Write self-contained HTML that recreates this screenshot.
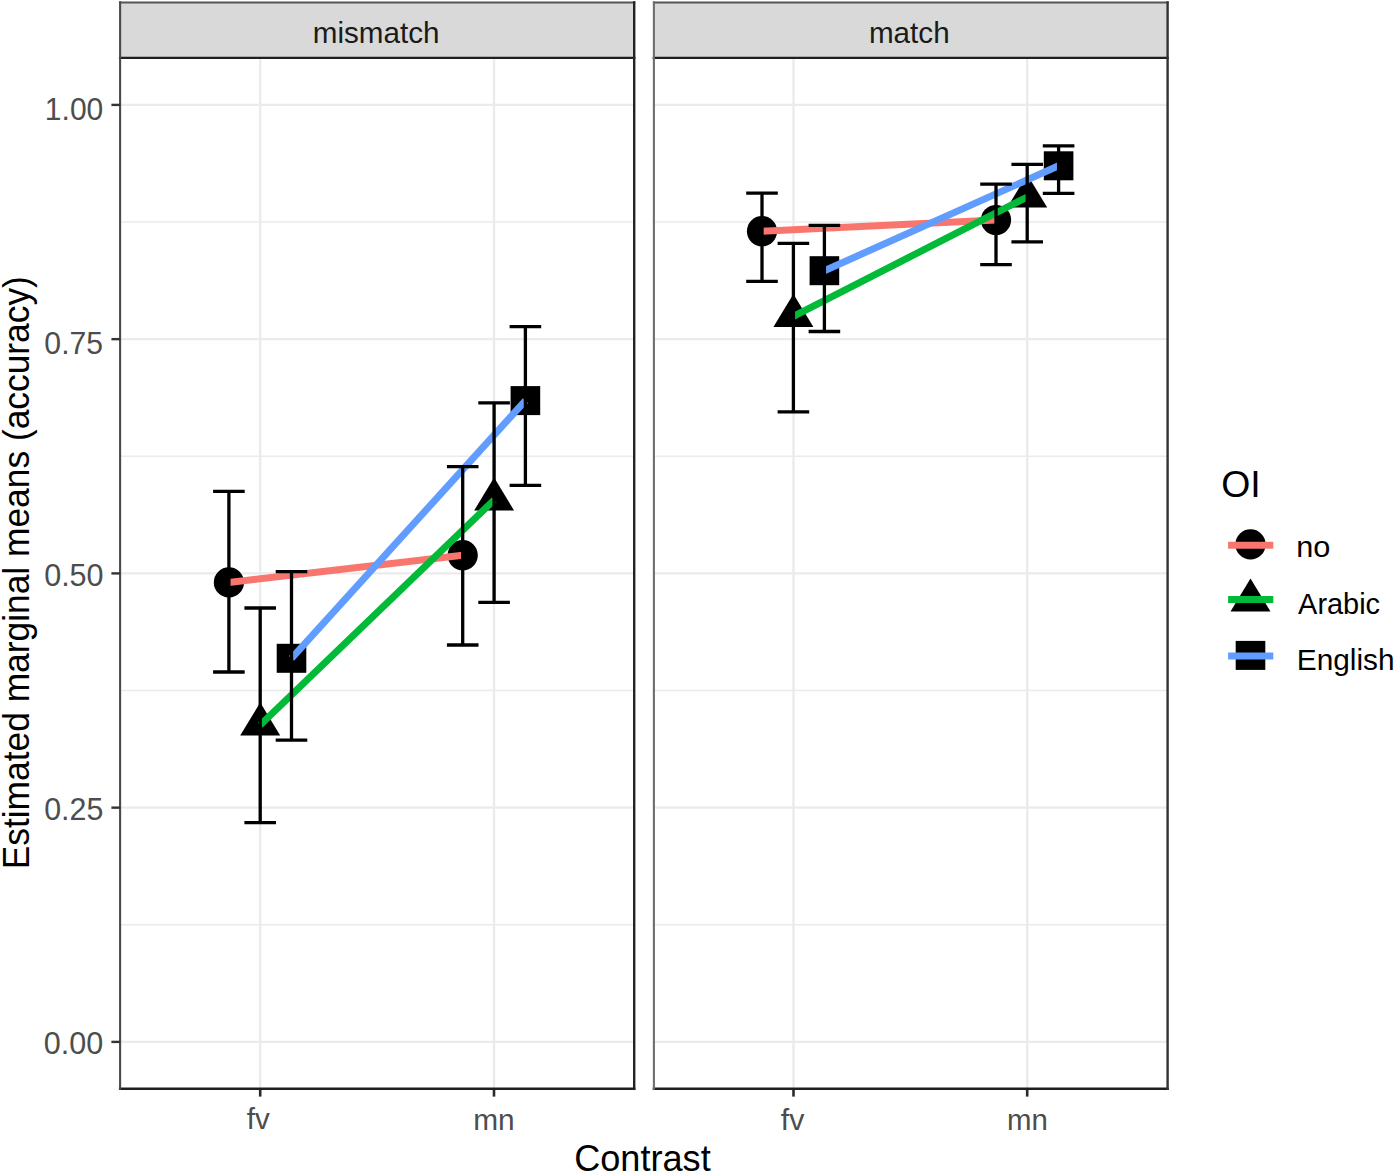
<!DOCTYPE html><html><head><meta charset="utf-8"><style>html,body{margin:0;padding:0;background:#fff;}svg{display:block;}text{font-family:"Liberation Sans", sans-serif;}</style></head><body>
<svg width="1394" height="1171" viewBox="0 0 1394 1171">
<rect x="0" y="0" width="1394" height="1171" fill="#fff"/>
<line x1="120.1" y1="924.78" x2="634.2" y2="924.78" stroke="#EBEBEB" stroke-width="1.4"/>
<line x1="120.1" y1="690.53" x2="634.2" y2="690.53" stroke="#EBEBEB" stroke-width="1.4"/>
<line x1="120.1" y1="456.28" x2="634.2" y2="456.28" stroke="#EBEBEB" stroke-width="1.4"/>
<line x1="120.1" y1="222.03" x2="634.2" y2="222.03" stroke="#EBEBEB" stroke-width="1.4"/>
<line x1="120.1" y1="1041.90" x2="634.2" y2="1041.90" stroke="#EBEBEB" stroke-width="2.4"/>
<line x1="120.1" y1="807.65" x2="634.2" y2="807.65" stroke="#EBEBEB" stroke-width="2.4"/>
<line x1="120.1" y1="573.40" x2="634.2" y2="573.40" stroke="#EBEBEB" stroke-width="2.4"/>
<line x1="120.1" y1="339.15" x2="634.2" y2="339.15" stroke="#EBEBEB" stroke-width="2.4"/>
<line x1="120.1" y1="104.90" x2="634.2" y2="104.90" stroke="#EBEBEB" stroke-width="2.4"/>
<line x1="260.20" y1="57.9" x2="260.20" y2="1088.8" stroke="#EBEBEB" stroke-width="2.4"/>
<line x1="494.00" y1="57.9" x2="494.00" y2="1088.8" stroke="#EBEBEB" stroke-width="2.4"/>
<rect x="120.1" y="2.4" width="514.10" height="55.50" fill="#D9D9D9"/>
<line x1="260.20" y1="1088.8" x2="260.20" y2="1096.6" stroke="#2a2a2a" stroke-width="2.6"/>
<line x1="494.00" y1="1088.8" x2="494.00" y2="1096.6" stroke="#2a2a2a" stroke-width="2.6"/>
<line x1="653.9" y1="924.78" x2="1167.6" y2="924.78" stroke="#EBEBEB" stroke-width="1.4"/>
<line x1="653.9" y1="690.53" x2="1167.6" y2="690.53" stroke="#EBEBEB" stroke-width="1.4"/>
<line x1="653.9" y1="456.28" x2="1167.6" y2="456.28" stroke="#EBEBEB" stroke-width="1.4"/>
<line x1="653.9" y1="222.03" x2="1167.6" y2="222.03" stroke="#EBEBEB" stroke-width="1.4"/>
<line x1="653.9" y1="1041.90" x2="1167.6" y2="1041.90" stroke="#EBEBEB" stroke-width="2.4"/>
<line x1="653.9" y1="807.65" x2="1167.6" y2="807.65" stroke="#EBEBEB" stroke-width="2.4"/>
<line x1="653.9" y1="573.40" x2="1167.6" y2="573.40" stroke="#EBEBEB" stroke-width="2.4"/>
<line x1="653.9" y1="339.15" x2="1167.6" y2="339.15" stroke="#EBEBEB" stroke-width="2.4"/>
<line x1="653.9" y1="104.90" x2="1167.6" y2="104.90" stroke="#EBEBEB" stroke-width="2.4"/>
<line x1="793.50" y1="57.9" x2="793.50" y2="1088.8" stroke="#EBEBEB" stroke-width="2.4"/>
<line x1="1027.20" y1="57.9" x2="1027.20" y2="1088.8" stroke="#EBEBEB" stroke-width="2.4"/>
<rect x="653.9" y="2.4" width="513.70" height="55.50" fill="#D9D9D9"/>
<line x1="793.50" y1="1088.8" x2="793.50" y2="1096.6" stroke="#2a2a2a" stroke-width="2.6"/>
<line x1="1027.20" y1="1088.8" x2="1027.20" y2="1096.6" stroke="#2a2a2a" stroke-width="2.6"/>
<circle cx="228.9" cy="582.4" r="15.1" fill="#000"/>
<circle cx="462.7" cy="555.2" r="15.1" fill="#000"/>
<polygon points="260.20,702.60 280.20,735.60 240.20,735.60" fill="#000"/>
<polygon points="494.10,477.60 514.10,510.60 474.10,510.60" fill="#000"/>
<rect x="276.70" y="643.80" width="29.60" height="29.00" fill="#000"/>
<rect x="510.60" y="386.10" width="29.60" height="29.00" fill="#000"/>
<line x1="228.9" y1="582.40" x2="462.7" y2="555.20" stroke="#F8766D" stroke-width="7.0"/>
<line x1="260.2" y1="725.00" x2="494.1" y2="500.00" stroke="#00BA38" stroke-width="7.0"/>
<line x1="291.5" y1="658.30" x2="525.4" y2="400.60" stroke="#619CFF" stroke-width="7.0"/>
<path d="M213.10 491.3H244.70M228.9 491.3V672.0M213.10 672.0H244.70" stroke="#000" stroke-width="3.3" fill="none"/>
<path d="M446.90 466.6H478.50M462.7 466.6V645.0M446.90 645.0H478.50" stroke="#000" stroke-width="3.3" fill="none"/>
<path d="M244.40 608.0H276.00M260.2 608.0V822.6M244.40 822.6H276.00" stroke="#000" stroke-width="3.3" fill="none"/>
<path d="M478.30 402.8H509.90M494.1 402.8V602.3M478.30 602.3H509.90" stroke="#000" stroke-width="3.3" fill="none"/>
<path d="M275.70 571.6H307.30M291.5 571.6V740.2M275.70 740.2H307.30" stroke="#000" stroke-width="3.3" fill="none"/>
<path d="M509.60 326.7H541.20M525.4 326.7V485.4M509.60 485.4H541.20" stroke="#000" stroke-width="3.3" fill="none"/>
<circle cx="762.0" cy="231.2" r="15.1" fill="#000"/>
<circle cx="996.0" cy="220.0" r="15.1" fill="#000"/>
<polygon points="793.40,293.90 813.40,326.90 773.40,326.90" fill="#000"/>
<polygon points="1027.20,174.60 1047.20,207.60 1007.20,207.60" fill="#000"/>
<rect x="809.60" y="256.20" width="29.60" height="29.00" fill="#000"/>
<rect x="1043.80" y="151.30" width="29.60" height="29.00" fill="#000"/>
<line x1="762.0" y1="231.20" x2="996.0" y2="220.00" stroke="#F8766D" stroke-width="7.0"/>
<line x1="793.4" y1="316.30" x2="1027.2" y2="197.00" stroke="#00BA38" stroke-width="7.0"/>
<line x1="824.4" y1="270.70" x2="1058.6" y2="165.80" stroke="#619CFF" stroke-width="7.0"/>
<path d="M746.20 193.2H777.80M762.0 193.2V281.3M746.20 281.3H777.80" stroke="#000" stroke-width="3.3" fill="none"/>
<path d="M980.20 184.1H1011.80M996.0 184.1V264.6M980.20 264.6H1011.80" stroke="#000" stroke-width="3.3" fill="none"/>
<path d="M777.60 243.4H809.20M793.4 243.4V411.8M777.60 411.8H809.20" stroke="#000" stroke-width="3.3" fill="none"/>
<path d="M1011.40 164.4H1043.00M1027.2 164.4V241.8M1011.40 241.8H1043.00" stroke="#000" stroke-width="3.3" fill="none"/>
<path d="M808.60 225.3H840.20M824.4 225.3V331.5M808.60 331.5H840.20" stroke="#000" stroke-width="3.3" fill="none"/>
<path d="M1042.80 145.9H1074.40M1058.6 145.9V193.4M1042.80 193.4H1074.40" stroke="#000" stroke-width="3.3" fill="none"/>
<line x1="120.1" y1="2.4" x2="634.2" y2="2.4" stroke="#555555" stroke-width="2.0" stroke-linecap="square"/>
<line x1="120.1" y1="1088.8" x2="634.2" y2="1088.8" stroke="#1e1e1e" stroke-width="2.4" stroke-linecap="square"/>
<line x1="120.1" y1="57.9" x2="634.2" y2="57.9" stroke="#1f1f1f" stroke-width="2.4" stroke-linecap="square"/>
<line x1="120.1" y1="2.4" x2="120.1" y2="1088.8" stroke="#4a4a4a" stroke-width="2.1" stroke-linecap="square"/>
<line x1="634.2" y1="2.4" x2="634.2" y2="1088.8" stroke="#232323" stroke-width="2.4" stroke-linecap="square"/>
<line x1="653.9" y1="2.4" x2="1167.6" y2="2.4" stroke="#555555" stroke-width="2.0" stroke-linecap="square"/>
<line x1="653.9" y1="1088.8" x2="1167.6" y2="1088.8" stroke="#1e1e1e" stroke-width="2.4" stroke-linecap="square"/>
<line x1="653.9" y1="57.9" x2="1167.6" y2="57.9" stroke="#1f1f1f" stroke-width="2.4" stroke-linecap="square"/>
<line x1="653.9" y1="2.4" x2="653.9" y2="1088.8" stroke="#6e6e6e" stroke-width="2.1" stroke-linecap="square"/>
<line x1="1167.6" y1="2.4" x2="1167.6" y2="1088.8" stroke="#333333" stroke-width="2.4" stroke-linecap="square"/>
<line x1="111.4" y1="1041.90" x2="120.1" y2="1041.90" stroke="#333" stroke-width="2.4"/>
<line x1="111.4" y1="807.65" x2="120.1" y2="807.65" stroke="#333" stroke-width="2.4"/>
<line x1="111.4" y1="573.40" x2="120.1" y2="573.40" stroke="#333" stroke-width="2.4"/>
<line x1="111.4" y1="339.15" x2="120.1" y2="339.15" stroke="#333" stroke-width="2.4"/>
<line x1="111.4" y1="104.90" x2="120.1" y2="104.90" stroke="#333" stroke-width="2.4"/>
<circle cx="1250.5" cy="544.4" r="15.1" fill="#000"/>
<line x1="1228.1" y1="545.3" x2="1273.3" y2="545.3" stroke="#F8766D" stroke-width="7.0"/>
<polygon points="1250.50,578.40 1270.50,611.40 1230.50,611.40" fill="#000"/>
<line x1="1228.1" y1="599.6" x2="1273.3" y2="599.6" stroke="#00BA38" stroke-width="7.0"/>
<rect x="1235.70" y="640.90" width="29.60" height="29.00" fill="#000"/>
<line x1="1228.1" y1="656.1" x2="1273.3" y2="656.1" stroke="#619CFF" stroke-width="7.0"/>
<g transform="matrix(1.00569 0 0 0.98182 -1.787 1.182)"><text id="mismatch" x="375.8" y="42.8" font-size="29.5" fill="#1A1A1A" text-anchor="middle">mismatch</text></g>
<g transform="matrix(1.00519 0 0 0.97727 -4.825 1.477)"><text id="match" x="909.4" y="42.6" font-size="29.5" fill="#1A1A1A" text-anchor="middle">match</text></g>
<g transform="matrix(1.00435 0 0 0.97727 -1.678 26.636)"><text id="fvL" x="258.95" y="1128.4" font-size="29.5" fill="#4D4D4D" text-anchor="middle">fv</text></g>
<g transform="matrix(1.01316 0 0 0.98125 -6.550 22.550)"><text id="mnL" x="493.95" y="1128.4" font-size="29.5" fill="#4D4D4D" text-anchor="middle">mn</text></g>
<g transform="matrix(1.03043 0 0 0.99091 -24.070 11.455)"><text id="fvR" x="792.55" y="1128.4" font-size="29.5" fill="#4D4D4D" text-anchor="middle">fv</text></g>
<g transform="matrix(0.99737 0 0 0.98125 2.953 22.550)"><text id="mnR" x="1027.25" y="1128.4" font-size="29.5" fill="#4D4D4D" text-anchor="middle">mn</text></g>
<g transform="matrix(1.03571 0 0 1.08000 -3.679 -83.620)"><text id="y0" x="103.3" y="1053.6" font-size="29.5" fill="#4D4D4D" text-anchor="end">0.00</text></g>
<g transform="matrix(1.03036 0 0 1.07000 -3.127 -56.130)"><text id="y25" x="103.3" y="819.1" font-size="29.5" fill="#4D4D4D" text-anchor="end">0.25</text></g>
<g transform="matrix(1.03571 0 0 1.07000 -3.379 -39.750)"><text id="y50" x="103.3" y="585.1" font-size="29.5" fill="#4D4D4D" text-anchor="end">0.50</text></g>
<g transform="matrix(1.02321 0 0 1.06500 -2.591 -21.480)"><text id="y75" x="103.3" y="352.3" font-size="29.5" fill="#4D4D4D" text-anchor="end">0.75</text></g>
<g transform="matrix(1.01818 0 0 1.06500 -1.873 -6.270)"><text id="y100" x="103.3" y="118.3" font-size="29.5" fill="#4D4D4D" text-anchor="end">1.00</text></g>
<g transform="matrix(0.97681 0 0 1.00000 14.133 -0.100)"><text id="contrast" x="643.2" y="1171.4" font-size="37" fill="#000" text-anchor="middle">Contrast</text></g>
<g transform="matrix(1.00000 0 0 0.95568 0.100 25.700)"><text id="ytitle" transform="translate(29.3 572.4) rotate(-90)" x="0" y="0" font-size="37" fill="#000" text-anchor="middle">Estimated marginal means (accuracy)</text></g>
<g transform="matrix(1.01176 0 0 1.01923 -14.388 -8.538)"><text id="OI" x="1221.3" y="496.2" font-size="37" fill="#000" text-anchor="start">OI</text></g>
<g transform="matrix(1.04000 0 0 0.99375 -52.860 3.981)"><text id="no" x="1297.2" y="556.8" font-size="29.5" fill="#000" text-anchor="start">no</text></g>
<g transform="matrix(0.98072 0 0 0.97727 25.902 14.632)"><text id="Arabic" x="1297.2" y="613.0" font-size="29.5" fill="#000" text-anchor="start">Arabic</text></g>
<g transform="matrix(1.01075 0 0 0.98571 -14.368 10.743)"><text id="English" x="1297.2" y="669.3" font-size="29.5" fill="#000" text-anchor="start">English</text></g>
</svg></body></html>
